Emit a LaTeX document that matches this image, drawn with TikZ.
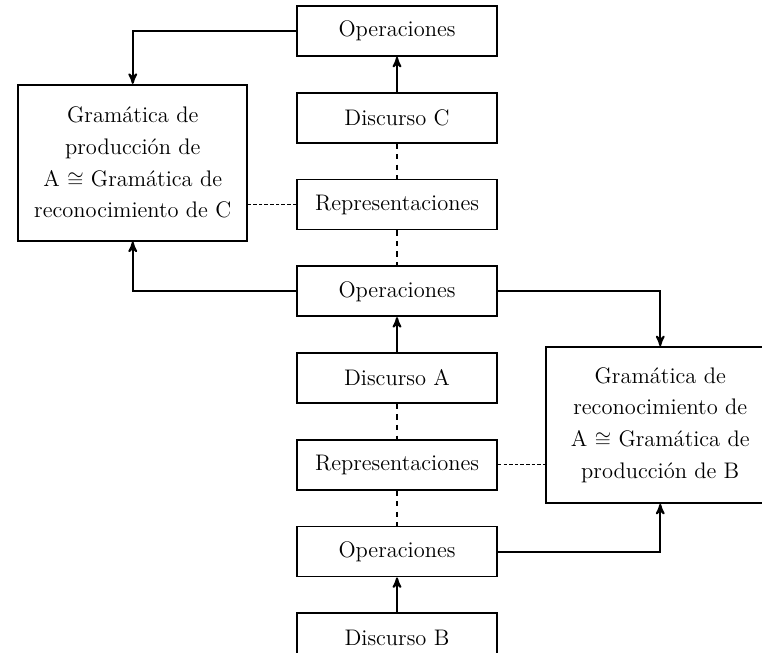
\documentclass[tikz,border=0pt]{standalone}
\usepackage{amsmath}
\usepackage{amssymb}
\usepackage{tikz}
\usetikzlibrary{arrows,positioning}
\tikzset{
    %Define standard arrow tip
    >=stealth',
    %Define style for boxes
    caja/.style={
           rectangle,
           draw=black, line width=1pt,
           minimum width=4cm,
           minimum height=1cm,
           font=\fontsize{12.8}{15}\selectfont,
           text centered},
    gramatica/.style={
           rectangle,
           draw=black, line width=1pt,
           minimum width=4.58cm,
           minimum height=3.12cm,
           align=center,
           font=\fontsize{12.8}{18}\selectfont},
    % Define arrow styles
    flecha/.style={
           ->,
           line width=1.1pt},
    enlace/.style={
           line width=1pt,
           dashed},
    punteado/.style={
           line width=0.8pt,
           dash pattern=on 2pt off 1.2pt}
}
\begin{document}
\begin{tikzpicture}[node distance=0.7cm]
\useasboundingbox (0,0) rectangle (15.24,-13.06);
\node[caja] at (7.94,-0.62) (opsC) {Operaciones};
\node[caja, below=of opsC] (discC) {Discurso C};
\node[caja, below=of discC] (repC) {Representaciones};
\node[caja, below=of repC] (opsA) {Operaciones};
\node[caja, below=of opsA] (discA) {Discurso A};
\node[caja, below=of discA] (repA) {Representaciones};
\node[caja, below=of repA] (opsB) {Operaciones};
\node[caja, below=of opsB] (discB) {Discurso B};
\node[gramatica, anchor=north east] at ([shift={(-0.96,0.16)}]discC.north west) (gramC)
  {Gramática de\\ producción de\\ A $\cong$ Gramática de\\ reconocimiento de C};
\node[gramatica, anchor=north west] at ([shift={(0.94,0.12)}]discA.north east) (gramB)
  {Gramática de\\ reconocimiento de\\ A $\cong$ Gramática de\\ producción de B};
% arrows
\draw[flecha] (discC) -- (opsC);
\draw[flecha] (discA) -- (opsA);
\draw[flecha] (discB) -- (opsB);
\draw[flecha] (opsC.west) -| (gramC.north);
\draw[flecha] (opsA.west) -| (gramC.south);
\draw[flecha] (opsA.east) -| (gramB.north);
\draw[flecha] (opsB.east) -| (gramB.south);
% dashed links
\draw[enlace] (discC) -- (repC);
\draw[enlace] (repC) -- (opsA);
\draw[enlace] (discA) -- (repA);
\draw[enlace] (repA) -- (opsB);
\draw[punteado] (repC.west) -- (repC.west -| gramC.east);
\draw[punteado] (repA.east) -- (repA.east -| gramB.west);
\end{tikzpicture}
\end{document}
